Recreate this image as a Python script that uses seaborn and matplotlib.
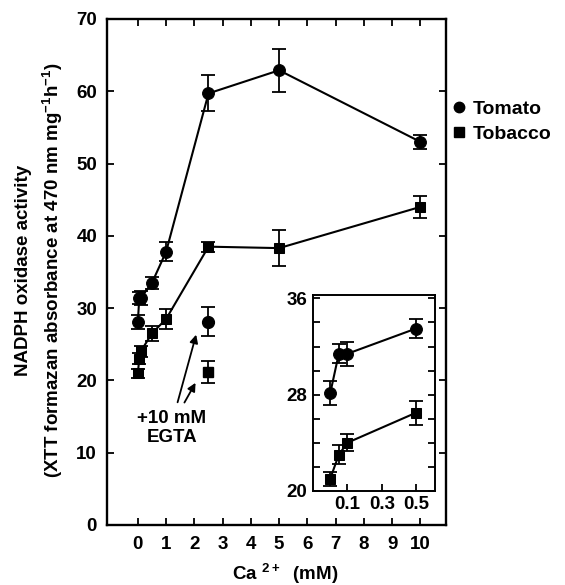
import numpy as np
import pandas as pd
import matplotlib
matplotlib.use("Agg")
import matplotlib.pyplot as plt
import seaborn as sns
from matplotlib.lines import Line2D

# Ca2+ concentrations (mM) and activities
ca = [0, 0.05, 0.1, 0.5, 1, 2.5, 5, 10]
tomato = [28.1, 31.4, 31.4, 33.5, 37.8, 59.7, 62.9, 53.0]
tomato_err = [1.0, 0.8, 1.0, 0.8, 1.3, 2.5, 3.0, 1.0]
tobacco = [21.0, 23.0, 24.0, 26.5, 28.5, 38.5, 38.3, 44.0]
tobacco_err = [0.6, 0.8, 0.7, 1.0, 1.4, 0.7, 2.5, 1.5]

# +10 mM EGTA controls
egta_ca = [2.5]
egta_tomato = [28.1]
egta_tomato_err = [2.0]
egta_tobacco = [21.2]
egta_tobacco_err = [1.5]

n_inset = 4  # first four points are shown enlarged in the inset

sns.set_style("ticks")
plt.rcParams['font.family'] = ['Liberation Sans', 'DejaVu Sans']
plt.rcParams['font.weight'] = 'bold'
plt.rcParams['text.color'] = 'black'
plt.rcParams['axes.labelcolor'] = 'black'
plt.rcParams['mathtext.fontset'] = 'custom'
plt.rcParams['mathtext.rm'] = 'Liberation Sans:bold'
plt.rcParams['mathtext.bf'] = 'Liberation Sans:bold'
plt.rcParams['mathtext.default'] = 'bf'

df = pd.DataFrame({
    "ca": ca + ca,
    "val": tomato + tobacco,
    "err": tomato_err + tobacco_err,
    "species": ["Tomato"] * len(ca) + ["Tobacco"] * len(ca),
})
marks = {"Tomato": "o", "Tobacco": "s"}
msize = {"Tomato": 8.5, "Tobacco": 7.5}
FS = 13.5


def draw(ax, d):
    for sp, g in d.groupby("species"):
        sns.lineplot(data=g, x="ca", y="val", marker=marks[sp], color="black",
                     markersize=msize[sp], markeredgecolor="black",
                     linewidth=1.5, estimator=None, sort=False, legend=False, ax=ax)
        ax.errorbar(g["ca"], g["val"], yerr=g["err"], fmt="none", ecolor="black",
                    elinewidth=1.3, capsize=5, capthick=1.3)


def style_axes(ax, lw=1.7):
    for s in ax.spines.values():
        s.set_visible(True)
        s.set_linewidth(lw)
        s.set_color("black")
    ax.tick_params(direction="in", top=True, right=True, length=5, width=1.3,
                   labelsize=FS, colors="black")
    ax.set_xlabel("")
    ax.set_ylabel("")


fig = plt.figure(figsize=(5.65, 5.85), dpi=100)
ax = fig.add_axes([0.189, 0.1026, 0.6, 0.865])
draw(ax, df)

# EGTA points
ax.errorbar(egta_ca, egta_tomato, yerr=egta_tomato_err, fmt="o", color="black",
            markersize=8.5, elinewidth=1.3, capsize=5, capthick=1.3)
ax.errorbar(egta_ca, egta_tobacco, yerr=egta_tobacco_err, fmt="s", color="black",
            markersize=7.5, elinewidth=1.3, capsize=5, capthick=1.3)

ax.annotate("", xy=(2.09, 26.7), xytext=(1.38, 16.6),
            arrowprops=dict(arrowstyle="-|>", color="black", lw=1.3, mutation_scale=12))
ax.annotate("", xy=(2.09, 20.0), xytext=(1.6, 16.6),
            arrowprops=dict(arrowstyle="-|>", color="black", lw=1.3, mutation_scale=12))
ax.text(1.2, 13.4, "+10 mM\nEGTA", ha="center", va="center", fontsize=FS,
        fontweight="bold", linespacing=1.15)

ax.set_xlim(-1.1, 10.9)
ax.set_ylim(0, 70)
ax.set_xticks(range(0, 11))
ax.set_yticks(range(0, 71, 10))
style_axes(ax)
ax.tick_params(axis="y", pad=7)
ax.tick_params(axis="x", pad=8)

fig.text(0.505, 0.019, r"Ca $^{2+}$  (mM)", ha="center", va="center",
         fontsize=FS, fontweight="bold")
fig.text(0.041, 0.538, "NADPH oxidase activity", rotation=90, ha="center",
         va="center", fontsize=FS, fontweight="bold")
fig.text(0.094, 0.538, r"(XTT formazan absorbance at 470 nm mg$^{-1}$h$^{-1}$)",
         rotation=90, ha="center", va="center", fontsize=FS, fontweight="bold")

handles = [Line2D([], [], marker="o", ls="none", color="black", markersize=7.5),
           Line2D([], [], marker="s", ls="none", color="black", markersize=6.5)]
fig.legend(handles, ["Tomato", "Tobacco"], loc="upper left",
           bbox_to_anchor=(0.796, 0.829), frameon=False, fontsize=14,
           handletextpad=0.2, labelspacing=0.4, handlelength=1.0,
           borderpad=0, borderaxespad=0)

# inset with the low-concentration points
axi = fig.add_axes([0.554, 0.161, 0.216, 0.335])
draw(axi, df[df["ca"] <= ca[n_inset - 1]])
axi.set_xlim(-0.1, 0.61)
axi.set_ylim(20, 36.3)
axi.set_xticks([0.1, 0.3, 0.5])
axi.set_xticklabels(["0.1", "0.3", "0.5"])
axi.set_yticks([20, 28, 36])
axi.set_yticks(np.arange(22, 36, 2), minor=True)
style_axes(axi, lw=1.4)
axi.tick_params(top=False, pad=4)
axi.tick_params(which="minor", direction="in", left=True, right=True, length=5,
                width=1.3, colors="black")

fig.savefig("out.png", dpi=100)
